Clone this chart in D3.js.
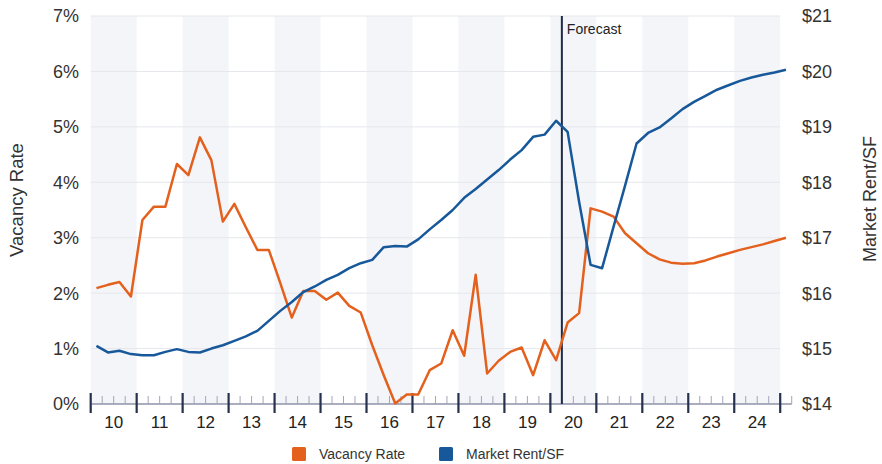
<!DOCTYPE html>
<html>
<head>
<meta charset="utf-8">
<script src="https://cdn.jsdelivr.net/npm/d3@7"></script>
<style>
  html, body { margin: 0; padding: 0; background: #ffffff; }
  svg { display: block; font-family: "Liberation Sans", Arial, Helvetica, sans-serif; }
</style>
</head>
<body>
<svg id="chart" width="882" height="464"></svg>
<script>
// Quarterly series, 2010 Q1 through 2025 Q1 (forecast from 2020 Q2)
const startYear = 2010;
const forecastStart = 2020.25;

const vacancyRate = [
  2.09, 2.15, 2.20, 1.94,   // 2010
  3.32, 3.56, 3.56, 4.33,   // 2011
  4.13, 4.81, 4.40, 3.29,   // 2012
  3.61, 3.19, 2.78, 2.78,   // 2013
  2.18, 1.56, 2.04, 2.04,   // 2014
  1.88, 2.01, 1.77, 1.65,   // 2015
  1.06, 0.52, 0.01, 0.17,   // 2016
  0.17, 0.61, 0.73, 1.33,   // 2017
  0.87, 2.33, 0.55, 0.78,   // 2018
  0.94, 1.02, 0.52, 1.15,   // 2019
  0.79, 1.47, 1.64, 3.53,   // 2020
  3.47, 3.38, 3.08, 2.90,   // 2021
  2.72, 2.61, 2.55, 2.53,   // 2022
  2.54, 2.59, 2.66, 2.72,   // 2023
  2.78, 2.83, 2.88, 2.94,   // 2024
  3.00                      // 2025
];

const marketRent = [
  15.05, 14.93, 14.96, 14.90,   // 2010
  14.88, 14.88, 14.94, 14.99,   // 2011
  14.94, 14.93, 15.00, 15.06,   // 2012
  15.14, 15.22, 15.32, 15.50,   // 2013
  15.68, 15.84, 16.02, 16.12,   // 2014
  16.24, 16.33, 16.45, 16.54,   // 2015
  16.60, 16.83, 16.85, 16.84,   // 2016
  16.97, 17.15, 17.32, 17.50,   // 2017
  17.72, 17.88, 18.05, 18.22,   // 2018
  18.41, 18.58, 18.82, 18.86,   // 2019
  19.11, 18.91, 17.65, 16.51,   // 2020
  16.45, 17.20, 17.94, 18.70,   // 2021
  18.89, 18.99, 19.15, 19.32,   // 2022
  19.45, 19.56, 19.67, 19.75,   // 2023
  19.83, 19.89, 19.94, 19.98,   // 2024
  20.03                         // 2025
];

const vacancyTicks = [0, 1, 2, 3, 4, 5, 6, 7];
const rentTicks = [14, 15, 16, 17, 18, 19, 20, 21];
const yearLabels = ["10", "11", "12", "13", "14", "15", "16", "17", "18", "19", "20", "21", "22", "23", "24"];
const seriesNames = ["Vacancy Rate", "Market Rent/SF"];

const colors = { vacancy: "#e4601d", rent: "#17589a" };

const svg = d3.select("#chart");

const x = d3.scaleLinear().domain([2010, 2025.25]).range([90.7, 791.7]);
const yVac = d3.scaleLinear().domain([0, 7]).range([404, 16]);
const yRent = d3.scaleLinear().domain([14, 21]).range([404, 16]);

const quarterX = i => x(startYear + (i + 0.5) / 4);

// Alternate-year shading
const years = d3.range(2010, 2025);
svg.append("g").selectAll("rect")
  .data(years.filter(y => y % 2 === 0))
  .join("rect")
  .attr("x", d => x(d))
  .attr("width", d => x(d + 1) - x(d))
  .attr("y", yVac(7))
  .attr("height", yVac(0) - yVac(7))
  .attr("fill", "#f4f5f9");

// Horizontal gridlines
svg.append("g").selectAll("line")
  .data(vacancyTicks.filter(v => v > 0))
  .join("line")
  .attr("x1", x(2010)).attr("x2", x(2025))
  .attr("y1", d => yVac(d)).attr("y2", d => yVac(d))
  .attr("stroke", "#e6e7ec")
  .attr("stroke-width", 1);

// Left axis labels
svg.append("g").selectAll("text")
  .data(vacancyTicks)
  .join("text")
  .attr("x", 79)
  .attr("y", d => yVac(d))
  .attr("dy", "0.36em")
  .attr("text-anchor", "end")
  .attr("font-size", 18)
  .attr("fill", "#333")
  .text(d => d + "%");

// Right axis labels
svg.append("g").selectAll("text")
  .data(rentTicks)
  .join("text")
  .attr("x", 802)
  .attr("y", d => yRent(d))
  .attr("dy", "0.36em")
  .attr("text-anchor", "start")
  .attr("font-size", 18)
  .attr("fill", "#333")
  .text(d => "$" + d);

// Axis titles
svg.append("text")
  .attr("transform", "translate(16,200) rotate(-90)")
  .attr("dy", "0.36em")
  .attr("text-anchor", "middle")
  .attr("font-size", 18.5)
  .attr("fill", "#333")
  .text(seriesNames[0]);

svg.append("text")
  .attr("transform", "translate(870,199) rotate(-90)")
  .attr("dy", "0.36em")
  .attr("text-anchor", "middle")
  .attr("font-size", 18)
  .attr("fill", "#333")
  .text(seriesNames[1]);

// Time axis: baseline, quarter ticks, year ticks, year labels
const axisG = svg.append("g");
axisG.append("line")
  .attr("x1", x(2010)).attr("x2", x(2025.25))
  .attr("y1", 404).attr("y2", 404)
  .attr("stroke", "#8f92aa").attr("stroke-width", 1.5);

const quarterTicks = d3.range(0, 61).map(i => 2010 + (i + 1) / 4).filter(q => q % 1 !== 0);
axisG.selectAll("line.minor")
  .data(quarterTicks)
  .join("line")
  .attr("class", "minor")
  .attr("x1", d => x(d)).attr("x2", d => x(d))
  .attr("y1", 396).attr("y2", 404)
  .attr("stroke", "#a3a6bb").attr("stroke-width", 1);

axisG.selectAll("line.major")
  .data(d3.range(2010, 2026))
  .join("line")
  .attr("class", "major")
  .attr("x1", d => x(d)).attr("x2", d => x(d))
  .attr("y1", 393).attr("y2", 413)
  .attr("stroke", "#26304f").attr("stroke-width", 2.2);

axisG.selectAll("text")
  .data(yearLabels)
  .join("text")
  .attr("x", (d, i) => x(2010 + i + 0.5))
  .attr("y", 428)
  .attr("text-anchor", "middle")
  .attr("font-size", 17)
  .attr("fill", "#222")
  .text(d => d);

// Forecast marker
svg.append("line")
  .attr("x1", x(forecastStart)).attr("x2", x(forecastStart))
  .attr("y1", yVac(7)).attr("y2", 404)
  .attr("stroke", "#1e2a48").attr("stroke-width", 2);
svg.append("text")
  .attr("x", x(forecastStart) + 5)
  .attr("y", 34)
  .attr("font-size", 14)
  .attr("fill", "#222")
  .text("Forecast");

// Series lines
const vacLine = d3.line().x((d, i) => quarterX(i)).y(d => yVac(d));
const rentLine = d3.line().x((d, i) => quarterX(i)).y(d => yRent(d));

svg.append("path")
  .datum(vacancyRate)
  .attr("d", vacLine)
  .attr("fill", "none")
  .attr("stroke", colors.vacancy)
  .attr("stroke-width", 2.5)
  .attr("stroke-linejoin", "round");

svg.append("path")
  .datum(marketRent)
  .attr("d", rentLine)
  .attr("fill", "none")
  .attr("stroke", colors.rent)
  .attr("stroke-width", 2.5)
  .attr("stroke-linejoin", "round");

// Legend
const legend = svg.append("g");
const legendItems = [
  { name: seriesNames[0], color: colors.vacancy, x: 292 },
  { name: seriesNames[1], color: colors.rent, x: 439 }
];
legendItems.forEach(item => {
  legend.append("rect")
    .attr("x", item.x).attr("y", 447)
    .attr("width", 14).attr("height", 14)
    .attr("rx", 1.5)
    .attr("fill", item.color);
  legend.append("text")
    .attr("x", item.x + 27).attr("y", 454)
    .attr("dy", "0.36em")
    .attr("font-size", 14)
    .attr("fill", "#333")
    .text(item.name);
});
</script>
</body>
</html>
